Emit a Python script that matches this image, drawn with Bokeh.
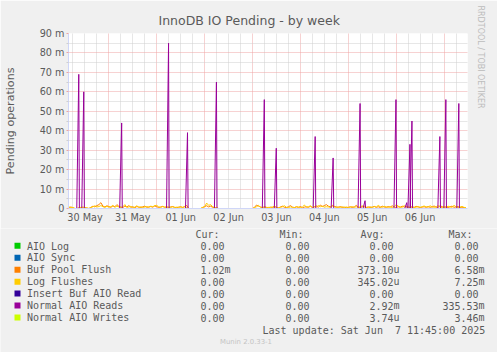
from bokeh.plotting import figure
from bokeh.models import FixedTicker, Title, Range1d
from bokeh.core.properties import value
from bokeh.embed import file_html
from bokeh.resources import INLINE

# ---------------- data ----------------
# hours since 30 May 00:00 (one sample per hour shown)
hours = list(range(4, 204))

# Buf Pool Flush (milli-operations)
buf_pool_flush = [
    0.5, 0.8, 0.3, 0, 0, 0.4, 0.6, 0.3, 0.5, 0.2,
    0, 0.6, 1.2, 0.8, 1.5, 2.0, 3.0, 1.2, 0.8, 1.4,
    1.0, 0.6, 1.3, 0.9, 2.0, 1.1, 0.7, 0.5, 1.2, 0.8,
    1.5, 0.6, 0.9, 0.4, 1.0, 0.7, 0.5, 0.9, 1.2, 0.6,
    0.8, 1.0, 0.7, 1.3, 0.9, 0.5, 0.8, 1.1, 0.6, 0.9,
    0.5, 0.8, 1.0, 0.6, 0.4, 0.7, 0.9, 0.5, 1.0, 1.6,
    0, 0, 0, 0, 0, 0, 0, 0.5, 1.0, 1.4,
    0.8, 1.2, 0.6, 0.4, 0.3, 0, 0, 0, 0, 0,
    0, 0, 0, 0, 0, 0, 0, 0, 0, 0,
    0, 0, 0, 0.6, 1.8, 1.2, 0.8, 0.5, 0.9, 0.6,
    0.4, 0.7, 0.5, 0.9, 0.6, 0.3, 0.8, 1.2, 0.6, 0.5,
    0.9, 1.5, 0.7, 0.5, 0.8, 0.6, 1.0, 0.4, 0.7, 0.9,
    0.6, 1.1, 0.5, 0.8, 1.3, 0.6, 1.8, 1.0, 1.5, 2.0,
    1.2, 0.9, 1.6, 1.1, 0.8, 0.6, 1.0, 0.5, 0.7, 0.4,
    0.6, 0.9, 0.5, 0.8, 1.6, 0.7, 0.5, 0.9, 1.2, 0.6,
    0.8, 0.5, 0.7, 1.1, 0.6, 0.9, 0.5, 1.2, 0.8, 0.6,
    1.0, 0.7, 1.4, 0.8, 0.5, 0.9, 0.6, 1.2, 0.8, 1.0,
    0.7, 0.5, 0.9, 0.6, 1.1, 0.8, 0.5, 0.7, 0.9, 0.6,
    1.0, 0.6, 0.8, 1.3, 0.7, 0.5, 1.6, 0.9, 0.6, 0.8,
    0.5, 0.9, 1.2, 0.6, 0.8, 1.0, 0.5, 0.7, 0.4, 0.3,
]

# Log Flushes (milli-operations)
log_flushes = [
    0.8, 0.4, 0.6, 0, 0, 0.3, 0.5, 0.8, 0.4, 0.3,
    0, 0.5, 0.9, 1.4, 0.8, 1.0, 1.5, 0.9, 0.6, 1.1,
    0.7, 0.9, 1.6, 0.6, 1.2, 0.8, 0.5, 0.9, 2.0, 0.6,
    0.8, 1.1, 0.5, 0.7, 1.4, 0.6, 0.9, 0.5, 0.8, 1.0,
    0.6, 1.2, 0.9, 1.5, 1.6, 0.8, 0.6, 1.0, 0.7, 0.5,
    0.8, 0.6, 0.9, 0.5, 0.7, 0.6, 0.8, 0.6, 0.9, 0.5,
    0, 0, 0, 0, 0, 0, 0, 0.6, 0.9, 2.8,
    1.6, 2.0, 0.9, 0.5, 0.4, 0, 0, 0, 0, 0,
    0, 0, 0, 0, 0, 0, 0, 0, 0, 0,
    0, 0, 0, 0.5, 0.9, 1.6, 0.6, 0.4, 0.7, 0.5,
    0.6, 0.5, 0.8, 1.2, 0.5, 0.4, 0.6, 0.9, 1.4, 0.6,
    0.5, 0.8, 0.6, 0.4, 1.0, 0.7, 0.5, 0.8, 1.8, 0.6,
    0.9, 1.4, 0.6, 1.0, 0.8, 1.5, 0.9, 1.2, 0.7, 0.9,
    0.8, 0.6, 1.2, 0.9, 0.5, 0.8, 0.6, 0.9, 0.5, 0.8,
    0.5, 0.7, 1.0, 0.6, 0.9, 0.5, 0.8, 1.4, 0.7, 0.5,
    0.6, 0.9, 0.5, 1.0, 0.7, 1.6, 0.9, 0.6, 1.1, 0.8,
    0.6, 0.9, 0.5, 1.0, 2.0, 1.2, 0.8, 0.6, 1.5, 0.7,
    0.9, 0.6, 0.8, 0.5, 0.7, 1.0, 0.6, 0.9, 1.3, 0.8,
    0.7, 1.4, 0.9, 0.6, 0.8, 1.5, 0.7, 0.5, 1.0, 0.6,
    1.2, 0.8, 0.6, 1.6, 0.9, 0.5, 0.7, 1.1, 0.6, 0.4,
]

# series that stay at zero on this graph
aio_log = [0.0] * len(hours)
aio_sync = [0.0] * len(hours)
insert_buf_aio_read = [0.0] * len(hours)
normal_aio_writes = [0.0] * len(hours)

# Normal AIO Reads: spike times (hours) and heights (milli)
read_spike_hours = [8.9, 11.4, 30.4, 53.9, 63.4, 77.9, 101.9, 107.9, 127.4, 136.4,
                    149.9, 152.4, 167.9, 173.3, 174.9, 175.9, 189.9, 192.9, 199.4]
read_spike_values = [69, 60, 44, 85, 39, 65, 56, 31, 37, 26,
                     54, 4, 56, 3, 33, 45, 37, 56, 54]

day_label_hours = [12, 36, 60, 84, 108, 132, 156, 180]
day_labels = ["30 May", "31 May", "01 Jun", "02 Jun", "03 Jun", "04 Jun", "05 Jun", "06 Jun"]
day_boundaries = [24, 48, 72, 96, 120, 144, 168, 192]
six_hour_marks = [h for h in range(6, 204, 6) if h % 24 != 0]

y_ticks = [0, 10, 20, 30, 40, 50, 60, 70, 80, 90]
y_tick_labels = ["0", "10 m", "20 m", "30 m", "40 m", "50 m", "60 m", "70 m", "80 m", "90 m"]
y_minor = [5, 15, 25, 35, 45, 55, 65, 75, 85]

series_names = ["AIO Log", "AIO Sync", "Buf Pool Flush", "Log Flushes",
                "Insert Buf AIO Read", "Normal AIO Reads", "Normal AIO Writes"]
series_colors = ["#00cc00", "#0066b3", "#ff8000", "#ffcc00", "#330099", "#990099", "#ccff00"]
cur_vals = ["0.00", "0.00", "1.02m", "0.00", "0.00", "0.00", "0.00"]
min_vals = ["0.00", "0.00", "0.00", "0.00", "0.00", "0.00", "0.00"]
avg_vals = ["0.00", "0.00", "373.10u", "345.02u", "0.00", "2.92m", "3.74u"]
max_vals = ["0.00", "0.00", "6.58m", "7.25m", "0.00", "335.53m", "3.46m"]
column_heads = ["Cur:", "Min:", "Avg:", "Max:"]
last_update = "Last update: Sat Jun\u00a0 7 11:45:00 2025"
munin_version = "Munin 2.0.33-1"

# ---------------- layout ----------------
W = 497
H1 = 228          # main graph part
H2 = 352 - H1     # legend part
FL, FT, FW, FH = 67, 33, 400, 175
X0, X1 = 3.75, 203.75
Y0, Y1 = 0.0, 90.0

BG = "#f0f0f0"
FONT_C = "#5a5a5a"
AXIS_C = "#cfd6f8"
MGRID_C = "#eea4a4"
GRID_C = "#cfcfcf"

p = figure(width=W, height=H1, output_backend="svg", toolbar_location=None,
           title=None, x_range=Range1d(X0, X1), y_range=Range1d(Y0, Y1),
           min_border_left=FL, min_border_right=W - FL - FW,
           min_border_top=FT, min_border_bottom=H1 - FT - FH)
p.background_fill_color = "#ffffff"
p.border_fill_color = BG
p.outline_line_color = None

# title and vertical watermark
p.add_layout(Title(text="InnoDB IO Pending - by week", align="left", offset=90,
                   standoff=12, text_font="DejaVu Sans", text_font_size="12.5px",
                   text_font_style="normal", text_color=FONT_C), "above")
p.add_layout(Title(text="RRDTOOL / TOBI OETIKER", align="left", offset=-28,
                   standoff=17, text_font="DejaVu Sans", text_font_size="8px",
                   text_font_style="normal", text_color="#bcbcbc"), "right")

# axes
xa = p.xaxis[0]
xa.ticker = FixedTicker(ticks=day_label_hours, minor_ticks=[])
xa.major_label_overrides = dict(zip(day_label_hours, day_labels))
xa.major_tick_line_color = None
xa.minor_tick_line_color = None
xa.major_tick_out = 0
xa.major_label_standoff = 3
xa.axis_line_color = AXIS_C
xa.major_label_text_font = "DejaVu Sans"
xa.major_label_text_font_size = "9.7px"
xa.major_label_text_color = FONT_C

ya = p.yaxis[0]
ya.ticker = FixedTicker(ticks=y_ticks, minor_ticks=y_minor)
ya.major_label_overrides = dict(zip(y_ticks, y_tick_labels))
ya.major_tick_line_color = MGRID_C
ya.major_tick_out = 2
ya.major_tick_in = 0
ya.minor_tick_line_color = GRID_C
ya.minor_tick_out = 2
ya.minor_tick_in = 0
ya.major_label_standoff = 2
ya.axis_line_color = AXIS_C
ya.major_label_text_font = "DejaVu Sans"
ya.major_label_text_font_size = "9.7px"
ya.major_label_text_color = FONT_C
ya.axis_label = "Pending operations"
ya.axis_label_text_font = "DejaVu Sans"
ya.axis_label_text_font_size = "11.1px"
ya.axis_label_text_font_style = "normal"
ya.axis_label_text_color = FONT_C
ya.axis_label_standoff = 20

# grids
xg = p.xgrid[0]
xg.ticker = FixedTicker(ticks=day_boundaries, minor_ticks=six_hour_marks)
xg.grid_line_color = MGRID_C
xg.grid_line_dash = "1 1"
xg.minor_grid_line_color = GRID_C
xg.minor_grid_line_dash = "1 1"

yg = p.ygrid[0]
yg.grid_line_color = MGRID_C
yg.grid_line_dash = "1 1"
yg.minor_grid_line_color = GRID_C
yg.minor_grid_line_dash = "1 1"

# data lines (munin draw order)
p.line(hours, aio_log, line_color=series_colors[0], line_width=1)
p.line(hours, aio_sync, line_color=series_colors[1], line_width=1)
p.line(hours, buf_pool_flush, line_color=series_colors[2], line_width=1, line_join="round")
p.line(hours, log_flushes, line_color=series_colors[3], line_width=1, line_join="round")
p.line(hours, insert_buf_aio_read, line_color=series_colors[4], line_width=1)
spike_xs = [[t - 1.0, t, t + 0.3] for t in read_spike_hours]
spike_ys = [[0, v, 0] for v in read_spike_values]
p.multi_line(spike_xs, spike_ys, line_color=series_colors[5], line_width=1, line_join="round")
p.line(hours, normal_aio_writes, line_color=series_colors[6], line_width=1)

# ---------------- legend part (page pixel coordinates) ----------------
q = figure(width=W, height=H2, output_backend="svg", toolbar_location=None,
           title=None, x_range=Range1d(0, W), y_range=Range1d(352, H1),
           x_axis_type=None, y_axis_type=None,
           min_border_left=0, min_border_right=0, min_border_top=0, min_border_bottom=0)
q.background_fill_color = BG
q.border_fill_color = BG
q.outline_line_color = None

MONO = value("DejaVu Sans Mono")
LS = value("10px")


def txt(xs, ys, texts, align="left", font=MONO, size=LS, color=FONT_C):
    q.text(x=xs, y=ys, text=texts, text_font=font, text_font_size=size,
           text_color=color, text_align=align, text_baseline="middle")


head_x = [195, 279, 360, 448]
txt(head_x, [234] * 4, column_heads)

row_y = [245.5 + 11.95 * i for i in range(len(series_names))]
q.quad(left=14, right=20, top=[y - 3.2 for y in row_y], bottom=[y + 2.8 for y in row_y],
       fill_color=series_colors, line_color=None)
txt([26.5] * len(series_names), row_y, series_names)

col_edges = [224, 309, 393, 478]


def split_val(v):
    if v[-1].isalpha():
        return v[:-1], v[-1]
    return v, ""


for edge, col in zip(col_edges, [cur_vals, min_vals, avg_vals, max_vals]):
    nums = [split_val(v)[0] for v in col]
    txt([edge] * len(col), row_y, nums, align="right")
    suf_y = [y for y, v in zip(row_y, col) if split_val(v)[1]]
    sufs = [split_val(v)[1] for v in col if split_val(v)[1]]
    if sufs:
        txt([edge] * len(sufs), suf_y, sufs)

txt([262], [330], [last_update])
txt([245.5], [341], [munin_version], align="center", font=value("DejaVu Sans"),
    size=value("6.9px"), color="#c4c4c4")

open("out.html", "w").write(file_html([p, q], INLINE))
